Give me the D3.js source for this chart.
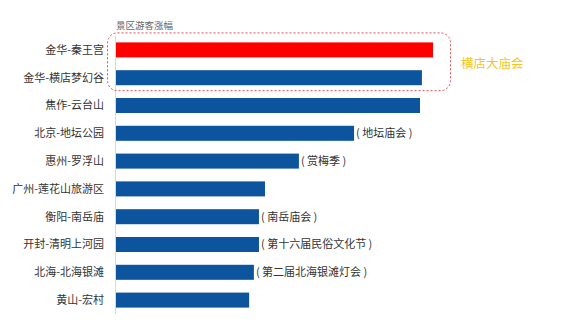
<!DOCTYPE html>
<html><head><meta charset="utf-8">
<script src="https://cdn.jsdelivr.net/npm/d3@7"></script>
<style>body{margin:0;background:#fff}svg{display:block}</style>
</head><body>
<svg id="c" width="569" height="323"></svg>
<script>
const categories = ["金华-秦王宫","金华-横店梦幻谷","焦作-云台山","北京-地坛公园","惠州-罗浮山","广州-莲花山旅游区","衡阳-南岳庙","开封-清明上河园","北海-北海银滩","黄山-宏村"];
const values = [100, 96.5, 95.9, 75.1, 57.7, 47.0, 45.1, 45.1, 43.5, 42.0];
const notes = ["","","","( 地坛庙会 )","( 赏梅季 )","","( 南岳庙会 )","( 第十六届民俗文化节 )","( 第二届北海银滩灯会 )",""];
const highlight = [true,false,false,false,false,false,false,false,false,false];
const title = "景区游客涨幅";
const groupLabel = "横店大庙会";

const svg = d3.select("#c");
const font = "'Noto Sans CJK SC','Noto Sans',sans-serif";
const x = d3.scaleLinear().domain([0,100]).range([116,433]);
const y = d3.scaleBand().domain(categories).range([36,314]).paddingInner(0.46).paddingOuter(0.23);

svg.append("line").attr("x1",115.5).attr("x2",115.5).attr("y1",36).attr("y2",314)
  .attr("stroke","#d9d9d9").attr("stroke-width",1);

svg.append("text").attr("x",116).attr("y",29).text(title)
  .attr("font-family",font).attr("font-size",9.5).attr("fill","#666");

svg.selectAll("rect.bar").data(categories).join("rect").attr("class","bar")
  .attr("x",x(0)).attr("y",d=>y(d)).attr("height",y.bandwidth())
  .attr("width",(d,i)=>x(values[i])-x(0))
  .attr("fill",(d,i)=>highlight[i]?"#ff0000":"#0d549e");

svg.selectAll("text.cat").data(categories).join("text").attr("class","cat")
  .attr("x",104).attr("y",d=>y(d)+y.bandwidth()/2).attr("dy","0.35em")
  .attr("text-anchor","end").attr("font-family",font).attr("font-size",11)
  .attr("fill","#333").text(d=>d);

svg.selectAll("text.note").data(categories).join("text").attr("class","note")
  .attr("x",(d,i)=>x(values[i])+2).attr("y",d=>y(d)+y.bandwidth()/2).attr("dy","0.35em")
  .attr("font-family",font).attr("font-size",11).attr("fill","#333")
  .attr("xml:space","preserve").style("white-space","pre")
  .text((d,i)=>notes[i]);

const g0 = y(categories[0]), g1 = y(categories[1]) + y.bandwidth();
svg.append("rect").attr("x",107.5).attr("y",g0-9.5).attr("width",343).attr("height",g1-g0+15)
  .attr("rx",10).attr("ry",10).attr("fill","none")
  .attr("stroke","#d9505a").attr("stroke-width",1).attr("stroke-dasharray","2,2");

svg.append("text").attr("x",461).attr("y",(g0+g1)/2).attr("dy","0.35em")
  .attr("font-family",font).attr("font-size",12.5).attr("fill","#f5c518").text(groupLabel);
</script>
</body></html>
